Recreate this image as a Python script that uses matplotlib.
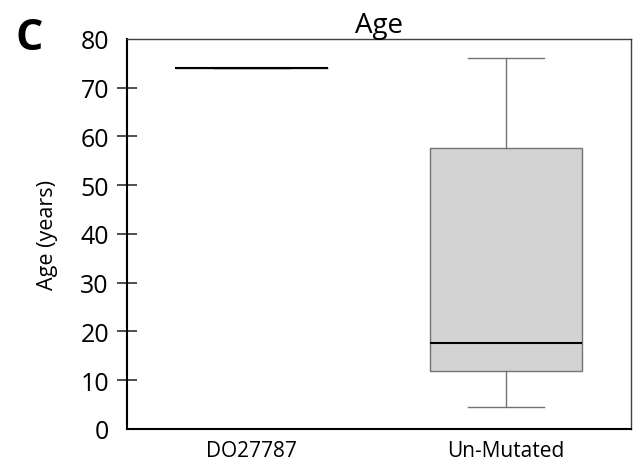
import matplotlib.pyplot as plt

groups = ['DO27787', 'Un-Mutated']
whislo = [74, 4.5]
q1 = [74, 11.8]
med = [74, 17.6]
q3 = [74, 57.6]
whishi = [74, 76]
inner_ticks = [10, 20, 30, 40, 50, 60, 70]
edge_ticks = [0, 80]

plt.rcParams['font.family'] = ['Open Sans', 'DejaVu Sans']

fig = plt.figure(figsize=(6.34, 4.64), dpi=100)
ax = fig.add_axes([0.2003, 0.0733, 0.7947, 0.8405])

stats = []
for i, g in enumerate(groups):
    stats.append({'label': g, 'whislo': whislo[i], 'q1': q1[i], 'med': med[i],
                  'q3': q3[i], 'whishi': whishi[i], 'fliers': []})

ax.bxp(stats, positions=[1, 2], widths=0.6, patch_artist=True, showfliers=False,
       boxprops=dict(facecolor='#d3d3d3', edgecolor='#737373', linewidth=1),
       whiskerprops=dict(color='#737373', linewidth=1),
       capprops=dict(color='#737373', linewidth=1),
       capwidths=0.3,
       medianprops=dict(color='black', linewidth=1.5))

ax.set_xlim(0.51, 2.49)
ax.set_ylim(0, 80)
# tick marks only on the inner values, bare labels at 0 and 80
ax.set_yticks(inner_ticks)
ax.set_yticks(edge_ticks, minor=True)
ax.set_yticklabels([str(v) for v in edge_ticks], minor=True)
ax.tick_params(axis='y', which='major', direction='inout', length=14,
               labelsize=18, width=1.2, color='#303030', pad=6)
ax.tick_params(axis='y', which='minor', length=0, labelsize=18, pad=13)
ax.tick_params(axis='x', length=0, labelsize=15, pad=8)
for s in ['left', 'bottom']:
    ax.spines[s].set_linewidth(1.5)
for s in ['top', 'right']:
    ax.spines[s].set_color('#404040')
    ax.spines[s].set_linewidth(1)

ax.set_ylabel('Age (years)', fontsize=15.5, labelpad=16)
ax.set_title('Age', fontsize=20, pad=3)
fig.text(0.024, 0.893, 'C', fontsize=31, fontweight='bold')

fig.savefig('out.png')
